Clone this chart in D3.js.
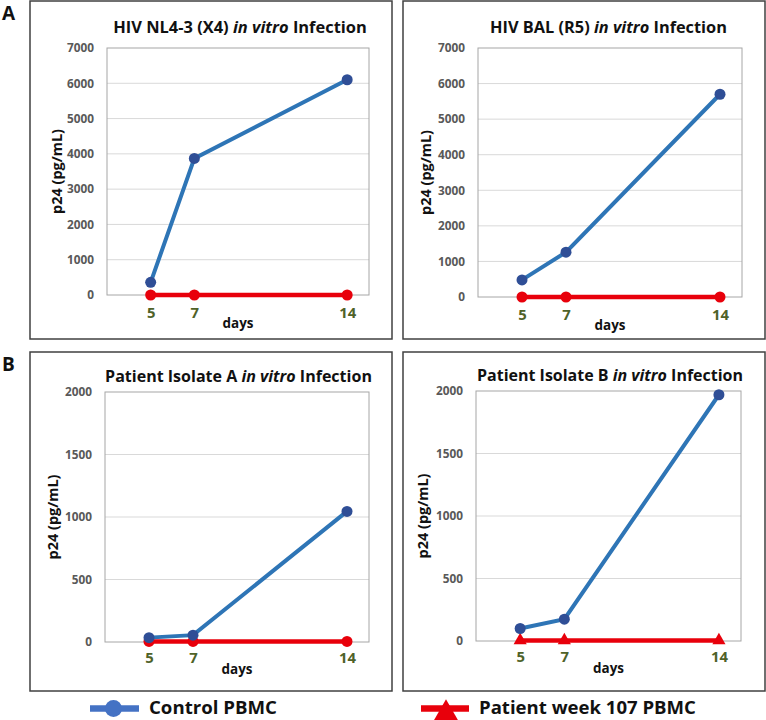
<!DOCTYPE html>
<html>
<head>
<meta charset="utf-8">
<script src="https://cdn.jsdelivr.net/npm/d3@7"></script>
<style>
  html, body { margin: 0; padding: 0; background: #ffffff; }
  svg { display: block; }
  text { font-family: "Open Sans", Lato, sans-serif; }
</style>
</head>
<body>
<svg id="chart" width="766" height="720"></svg>
<script>
// ---------- data ----------
const days = [5, 7, 14];
const xTickLabels = ["5", "7", "14"];

const panelTitles = [
  ["HIV NL4-3 (X4) ", "in vitro", " Infection"],
  ["HIV BAL (R5) ", "in vitro", " Infection"],
  ["Patient Isolate A ", "in vitro", " Infection"],
  ["Patient Isolate B ", "in vitro", " Infection"]
];

const controlNL43  = [360, 3870, 6100];
const patientNL43  = [0, 0, 0];
const controlBAL   = [480, 1260, 5700];
const patientBAL   = [0, 0, 0];
const controlIsoA  = [35, 55, 1045];
const patientIsoA  = [5, 5, 5];
const controlIsoB  = [100, 175, 1970];
const patientIsoB  = [5, 5, 5];

const yTicksTop    = [0, 1000, 2000, 3000, 4000, 5000, 6000, 7000];
const yTicksBottom = [0, 500, 1000, 1500, 2000];

const seriesNames = ["Control PBMC", "Patient week 107 PBMC"];
const panelLetters = ["A", "B"];

// ---------- layout / style ----------
const panels = [
  { frame: [30, 1, 392, 339],  plot: [107, 48, 369, 295], control: controlNL43, patient: patientNL43, ticks: yTicksTop, ymax: 7000, marker: "circle", titleY: 33, titleX: 240, titleW: 254, ylabX: 57 },
  { frame: [403, 1, 765, 339], plot: [478, 48, 742, 297], control: controlBAL,  patient: patientBAL,  ticks: yTicksTop, ymax: 7000, marker: "circle", titleY: 33, titleX: 608.5, titleW: 237, ylabX: 426 },
  { frame: [30, 352, 392, 691], plot: [105, 392, 369, 642], control: controlIsoA, patient: patientIsoA, ticks: yTicksBottom, ymax: 2000, marker: "circle", titleY: 382, titleX: 238.5, titleW: 267, ylabX: 53 },
  { frame: [403, 352, 765, 691], plot: [476, 391, 741, 641], control: controlIsoB, patient: patientIsoB, ticks: yTicksBottom, ymax: 2000, marker: "triangle", titleY: 381, titleX: 610, titleW: 266, ylabX: 423 }
];

const BLUE = "#2E75B6", BLUE_DOT = "#2F4E96", RED = "#E8000B";
const GREEN = "#4F6228", TICK_GREY = "#595959";

const svg = d3.select("#chart");

function fitWidth(sel, target) {
  const w = sel.node().getComputedTextLength();
  const fs = parseFloat(sel.attr("font-size"));
  if (w > 0) sel.attr("font-size", (fs * target / w).toFixed(2));
}
function measure(txt, size, weight) {
  const t = svg.append("text").attr("font-size", size).attr("font-weight", weight).text(txt);
  const w = t.node().getComputedTextLength();
  t.remove();
  return w;
}
// font sizes matched to the widths seen in the reference
const yTickSize  = 12 * 27 / measure("7000", 12, "bold");
const xTickSize  = 14 * 17 / measure("14", 14, "bold");
const daysSize   = 14 * 31 / measure("days", 14, "bold");
const ylabSize   = 14 * 85 / measure("p24 (pg/mL)", 14, "bold");

// panel letters
svg.append("text").attr("x", 2).attr("y", 20).text(panelLetters[0])
  .attr("font-family", "'Liberation Sans', Arial, sans-serif").attr("font-weight", "bold").attr("font-size", 19).attr("fill", "#111");
svg.append("text").attr("x", 2).attr("y", 371).text(panelLetters[1])
  .attr("font-family", "'Liberation Sans', Arial, sans-serif").attr("font-weight", "bold").attr("font-size", 19).attr("fill", "#111");

panels.forEach((p, i) => {
  const g = svg.append("g");
  const [fx0, fy0, fx1, fy1] = p.frame;
  const [px0, py0, px1, py1] = p.plot;

  g.append("rect").attr("x", fx0).attr("y", fy0).attr("width", fx1 - fx0).attr("height", fy1 - fy0)
    .attr("fill", "#fff").attr("stroke", "#404040").attr("stroke-width", 1.5);

  const x = d3.scaleLinear().domain([3, 15]).range([px0, px1]);
  const y = d3.scaleLinear().domain([0, p.ymax]).range([py1, py0]);

  // gridlines
  g.append("g").selectAll("line").data(p.ticks.filter(t => t > 0 && t < p.ymax)).join("line")
    .attr("x1", px0).attr("x2", px1).attr("y1", d => y(d)).attr("y2", d => y(d))
    .attr("stroke", "#d9d9d9").attr("stroke-width", 1);

  // plot area border
  g.append("rect").attr("x", px0).attr("y", py0).attr("width", px1 - px0).attr("height", py1 - py0)
    .attr("fill", "none").attr("stroke", "#a6a6a6").attr("stroke-width", 1);

  // y axis tick labels
  const yAxis = d3.axisLeft(y).tickValues(p.ticks).tickSize(0).tickPadding(13).tickFormat(d3.format("d"));
  const ya = g.append("g").attr("transform", `translate(${px0},0)`).call(yAxis);
  ya.select(".domain").remove();
  ya.selectAll("text").attr("font-family", "'Open Sans', sans-serif").attr("font-weight", "bold")
    .attr("font-size", yTickSize).attr("fill", TICK_GREY);

  // x axis tick labels
  const xAxis = d3.axisBottom(x).tickValues(days).tickSize(0).tickPadding(0)
    .tickFormat((d, k) => xTickLabels[k]);
  const xa = g.append("g").attr("transform", `translate(0,${py1})`).call(xAxis);
  xa.select(".domain").remove();
  xa.selectAll("text").attr("font-family", "'Open Sans', sans-serif").attr("font-weight", "bold")
    .attr("font-size", xTickSize).attr("fill", GREEN).attr("dy", null).attr("y", i < 2 ? 23 : 21);

  // axis titles
  g.append("text").attr("x", (px0 + px1) / 2).attr("y", py1 + (i < 2 ? 33 : 32)).attr("text-anchor", "middle")
    .attr("font-weight", "bold").attr("font-size", daysSize).attr("fill", "#111").text("days");
  g.append("text").attr("transform", `translate(${p.ylabX},${(py0 + py1) / 2}) rotate(-90)`)
    .attr("text-anchor", "middle").attr("dy", "0.35em")
    .attr("font-weight", "bold").attr("font-size", ylabSize).attr("fill", "#111").text("p24 (pg/mL)");

  // title
  const t = g.append("text").attr("x", p.titleX).attr("y", p.titleY).attr("text-anchor", "middle")
    .attr("font-weight", "bold").attr("font-size", 16).attr("fill", "#111");
  t.append("tspan").text(panelTitles[i][0]);
  t.append("tspan").attr("font-style", "italic").text(panelTitles[i][1]);
  t.append("tspan").text(panelTitles[i][2]);
  fitWidth(t, p.titleW);

  const line = d3.line().x((d, k) => x(days[k])).y(d => y(d));

  // patient series (red)
  g.append("path").datum(p.patient).attr("d", line).attr("fill", "none")
    .attr("stroke", RED).attr("stroke-width", 4.5);
  if (p.marker === "circle") {
    g.append("g").selectAll("circle").data(p.patient).join("circle")
      .attr("cx", (d, k) => x(days[k])).attr("cy", d => y(d)).attr("r", 5.5).attr("fill", RED);
  } else {
    g.append("g").selectAll("path").data(p.patient).join("path")
      .attr("d", d3.symbol(d3.symbolTriangle, 75))
      .attr("transform", (d, k) => `translate(${x(days[k])},${y(d)})`).attr("fill", RED);
  }

  // control series (blue)
  g.append("path").datum(p.control).attr("d", line).attr("fill", "none")
    .attr("stroke", BLUE).attr("stroke-width", 4);
  g.append("g").selectAll("circle").data(p.control).join("circle")
    .attr("cx", (d, k) => x(days[k])).attr("cy", d => y(d)).attr("r", 5.5).attr("fill", BLUE_DOT);
});

// ---------- legend ----------
const lg = svg.append("g");
const LEG_BLUE = "#4472C4";
const LEG_Y = 708.5;
lg.append("line").attr("x1", 90).attr("x2", 139).attr("y1", LEG_Y).attr("y2", LEG_Y)
  .attr("stroke", LEG_BLUE).attr("stroke-width", 6.5);
lg.append("circle").attr("cx", 113.5).attr("cy", LEG_Y).attr("r", 8.5).attr("fill", LEG_BLUE);
const l1 = lg.append("text").attr("x", 149).attr("y", LEG_Y + 5.5).attr("font-weight", "bold").attr("font-size", 19)
  .attr("fill", "#111").text(seriesNames[0]);
fitWidth(l1, 128);

lg.append("line").attr("x1", 421).attr("x2", 469).attr("y1", LEG_Y).attr("y2", LEG_Y)
  .attr("stroke", RED).attr("stroke-width", 6.5);
lg.append("path").attr("d", d3.symbol(d3.symbolTriangle, 260))
  .attr("transform", `translate(446,${LEG_Y + 5})`).attr("fill", RED);
const l2 = lg.append("text").attr("x", 479).attr("y", LEG_Y + 5.5).attr("font-weight", "bold").attr("font-size", 19)
  .attr("fill", "#111").text(seriesNames[1]);
fitWidth(l2, 217);
</script>
</body>
</html>
